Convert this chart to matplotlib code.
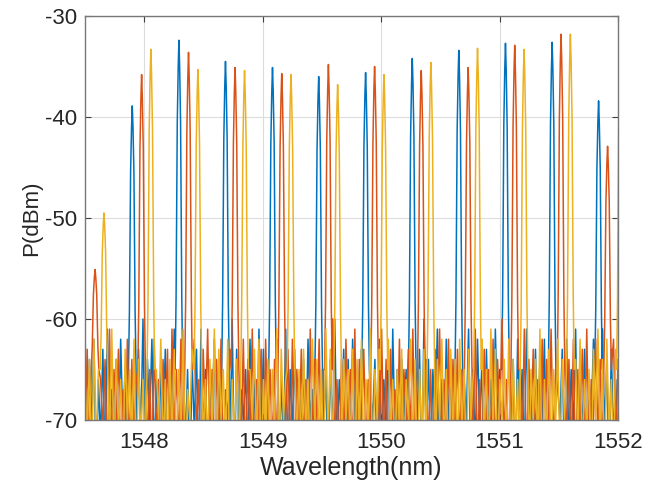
import numpy as np
import matplotlib
matplotlib.use('Agg')
import matplotlib.pyplot as plt

plt.rcParams['font.family'] = ['Liberation Sans', 'DejaVu Sans']
plt.rcParams['axes.unicode_minus'] = False

# wavelength range of the sweep (nm)
x_range = [1547.5, 1552.0]

# laser lines: centre wavelength (nm) and peak power (dBm)
blue_wl = [1547.899, 1548.293, 1548.686, 1549.083, 1549.473, 1549.869,
           1550.263, 1550.656, 1551.050, 1551.444, 1551.836]
blue_db = [-38.9, -32.4, -34.5, -35.1, -36.0, -35.6,
           -34.2, -33.4, -32.7, -32.6, -38.4]

orange_wl = [1547.585, 1547.978, 1548.374, 1548.767, 1549.161, 1549.555, 1549.945,
             1550.339, 1550.735, 1551.128, 1551.519, 1551.912]
orange_db = [-55.1, -35.8, -33.6, -35.1, -35.7, -34.8, -35.0,
             -35.4, -35.1, -32.9, -31.8, -42.9]

yellow_wl = [1547.660, 1548.056, 1548.453, 1548.847, 1549.239, 1549.633, 1550.024,
             1550.420, 1550.814, 1551.207, 1551.598, 1552.020]
yellow_db = [-49.5, -33.3, -35.3, -35.4, -35.8, -36.8, -35.8,
             -34.6, -33.2, -33.3, -31.8, -33.0]

# noise floor samples (dBm), evenly spaced over the sweep (below -70 is clipped)
blue_floor = [
    -61, -74, -64, -71, -62, -76, -66, -72, -63, -75, -61, -70, -67, -74, -64, -73, -62, -71, -65, -76, -63, -69, -66, -74,
    -63, -72, -60, -75, -64, -70, -62, -74, -66, -73, -65, -71, -63, -76, -67, -72, -61, -75, -64, -70, -62, -73, -65, -77,
    -64, -71, -63, -76, -61, -72, -65, -74, -67, -70, -62, -75, -64, -73, -66, -71, -62, -74, -60, -76, -63, -72, -67, -70,
    -65, -74, -62, -73, -66, -75, -61, -71, -63, -76, -67, -72, -64, -70, -62, -74, -66, -73, -61, -75, -65, -71, -63, -76,
    -66, -72, -64, -74, -62, -70, -67, -75, -61, -73, -63, -71, -65, -76, -64, -72, -60, -74, -66, -70, -63, -75, -64, -73,
    -62, -71, -65, -76, -63, -72, -61, -74, -67, -70, -64, -75, -62, -73, -66, -71, -63, -76, -61, -72, -65, -74, -64, -70,
    -65, -75, -62, -73, -66, -71, -63, -76, -60, -72, -64, -74, -65, -70, -61, -75, -66, -73, -62, -71, -64, -76, -67, -72,
    -63, -74, -66, -70, -61, -75, -65, -73, -62, -71, -64, -76, -63, -72, -66, -74, -61, -70, -65, -75, -67, -73, -62, -71,
    -64, -76, -62, -72, -65, -74, -61, -70, -66, -75, -63, -73, -64, -71, -62, -76, -65, -72, -61, -74, -67, -70, -63, -75,
    -62, -73, -65, -71, -61, -76, -64, -72, -63, -74, -66, -70, -62, -75, -65, -73, -61, -71, -64, -76, -63, -72, -66, -74,
]
orange_floor = [
    -72, -63, -75, -65, -70, -62, -74, -66, -71, -64, -76, -61, -73, -65, -70, -63, -75, -67, -72, -62, -74, -64, -71, -66,
    -76, -63, -70, -61, -73, -65, -75, -62, -72, -66, -74, -64, -70, -63, -77, -61, -71, -65, -73, -62, -75, -67, -72, -64,
    -74, -62, -71, -66, -76, -63, -70, -61, -73, -65, -75, -64, -72, -62, -74, -67, -70, -63, -76, -60, -71, -65, -73, -62,
    -75, -64, -72, -61, -74, -66, -70, -63, -76, -62, -71, -65, -73, -64, -75, -61, -72, -67, -70, -63, -74, -62, -76, -65,
    -71, -63, -73, -66, -75, -61, -72, -64, -70, -62, -74, -65, -76, -63, -71, -60, -73, -66, -75, -64, -72, -62, -70, -65,
    -74, -61, -76, -64, -71, -63, -73, -66, -75, -62, -70, -65, -72, -61, -74, -64, -76, -63, -71, -67, -73, -62, -75, -65,
    -70, -63, -72, -61, -74, -66, -76, -62, -71, -64, -73, -65, -75, -63, -70, -61, -72, -66, -74, -62, -76, -64, -71, -63,
    -73, -65, -75, -62, -70, -64, -72, -61, -74, -66, -76, -63, -71, -65, -73, -62, -75, -64, -70, -60, -72, -66, -74, -63,
    -76, -62, -71, -65, -73, -61, -75, -64, -70, -63, -72, -66, -74, -62, -76, -64, -71, -61, -73, -65, -75, -63, -70, -66,
    -72, -64, -74, -62, -76, -65, -71, -63, -73, -61, -75, -66, -70, -62, -72, -64, -74, -63, -76, -65, -71, -62, -73, -64,
]
yellow_floor = [
    -66, -71, -64, -75, -62, -73, -65, -70, -63, -76, -67, -72, -61, -74, -64, -71, -66, -75, -63, -70, -65, -73, -62, -76,
    -64, -72, -66, -74, -61, -71, -63, -75, -65, -70, -62, -73, -66, -76, -64, -72, -63, -74, -65, -71, -61, -75, -67, -70,
    -63, -73, -65, -76, -62, -72, -66, -74, -64, -71, -61, -75, -63, -70, -65, -73, -62, -76, -66, -72, -64, -74, -63, -71,
    -61, -75, -65, -70, -63, -73, -62, -76, -66, -72, -64, -74, -65, -71, -61, -75, -63, -70, -66, -73, -62, -76, -64, -72,
    -65, -74, -63, -71, -66, -75, -62, -70, -64, -73, -65, -76, -61, -72, -63, -74, -66, -71, -62, -75, -64, -70, -65, -73,
    -63, -76, -64, -72, -62, -74, -66, -71, -61, -75, -65, -70, -63, -73, -64, -76, -62, -72, -66, -74, -65, -71, -63, -75,
    -66, -70, -62, -73, -64, -76, -65, -72, -63, -74, -61, -71, -66, -75, -64, -70, -62, -73, -65, -76, -63, -72, -64, -74,
    -62, -71, -65, -75, -63, -70, -66, -73, -64, -76, -62, -72, -65, -74, -61, -71, -63, -75, -66, -70, -64, -73, -62, -76,
    -64, -72, -66, -74, -62, -71, -63, -75, -65, -70, -64, -73, -61, -76, -66, -72, -63, -74, -65, -71, -62, -75, -64, -70,
    -65, -73, -63, -76, -64, -72, -62, -74, -66, -71, -65, -75, -63, -70, -61, -73, -64, -76, -62, -72, -66, -74, -63, -71,
]

x_ticks = [1548, 1549, 1550, 1551, 1552]
y_ticks = [-70, -60, -50, -40, -30]

# line shape of one laser line (offset in nm, fraction of height lost)
SHAPE_DX = [-0.032, -0.024, -0.014, -0.006, 0.0, 0.006, 0.014, 0.024, 0.032]
SHAPE_DROP = [1.0, 0.78, 0.25, 0.08, 0.0, 0.08, 0.25, 0.78, 1.0]
SKIRT_DB = -65.0


def build_trace(floor, wl, db):
    xs = np.linspace(x_range[0], x_range[1], len(floor))
    pts = []
    for x, y in zip(xs, floor):
        if min(abs(x - w) for w in wl) > SHAPE_DX[-1]:
            pts.append((x, y))
    for w, p in zip(wl, db):
        for dx, f in zip(SHAPE_DX, SHAPE_DROP):
            pts.append((w + dx, p + f * (SKIRT_DB - p)))
    pts.sort()
    return [p[0] for p in pts], [p[1] for p in pts]


fig = plt.figure(figsize=(6.47, 5.0), dpi=100)
ax = fig.add_axes([85 / 647, 80 / 500, 533 / 647, 404 / 500])

series = [
    (blue_floor, blue_wl, blue_db, '#0072BD'),
    (orange_floor, orange_wl, orange_db, '#D95319'),
    (yellow_floor, yellow_wl, yellow_db, '#EDB120'),
]
for floor, wl, db, col in series:
    x, y = build_trace(floor, wl, db)
    ax.plot(x, y, color=col, lw=1.1)

ax.set_xlim(x_range)
ax.set_ylim(-70, -30)
ax.set_xticks(x_ticks)
ax.set_yticks(y_ticks)
ax.tick_params(direction='in', length=4, width=0.8, top=True, right=True,
               labelsize=16, colors='#404040')
ax.tick_params(axis='x', pad=9)
ax.tick_params(axis='y', pad=6)
for lab in ax.get_xticklabels() + ax.get_yticklabels():
    lab.set_color('#262626')
ax.grid(True, color='#dcdcdc', lw=0.8)
ax.set_axisbelow(True)
for sp in ax.spines.values():
    sp.set_color('#777777')
    sp.set_linewidth(1.0)

ax.set_xlabel('Wavelength(nm)', fontsize=18, color='#262626')
ax.set_ylabel('P(dBm)', fontsize=16, color='#262626')
ax.xaxis.set_label_coords(0.5, -0.09)
ax.yaxis.set_label_coords(-0.081, 0.5)

plt.savefig('out.png', dpi=100)
